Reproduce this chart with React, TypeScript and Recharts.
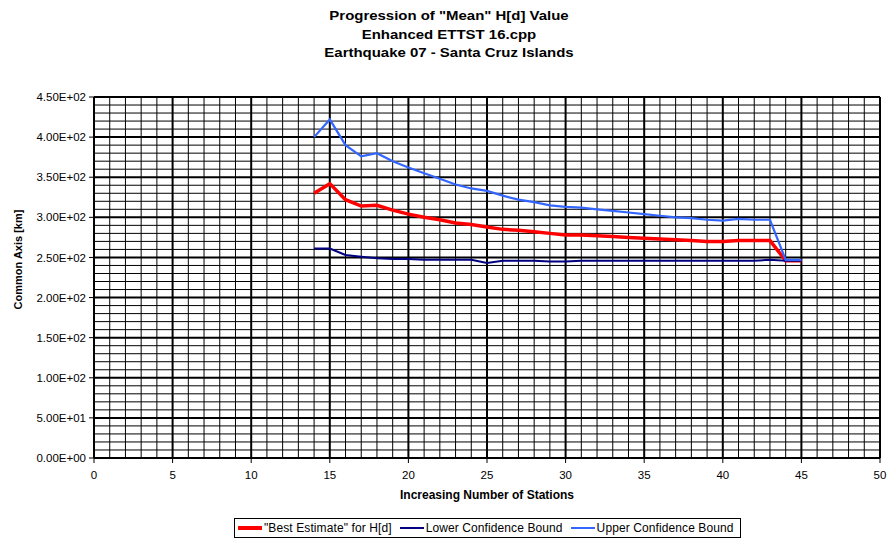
import { LineChart, Line, XAxis, YAxis, ReferenceLine } from 'recharts'

const stations = [14, 15, 16, 17, 18, 19, 20, 21, 22, 23, 24, 25, 26, 27, 28, 29, 30, 31, 32, 33, 34, 35, 36, 37, 38, 39, 40, 41, 42, 43, 44, 45]
const bestEstimate = [330, 342, 322, 314, 315, 309, 304, 300, 297, 293, 291, 288, 285, 284, 282, 280, 278, 278, 277, 276, 275, 274, 273, 272, 271, 270, 270, 271, 271, 271, 246, 246]
const lowerBound = [261, 261, 253, 251, 249, 248, 248, 247, 247, 247, 247, 243, 246, 246, 246, 245, 245, 246, 246, 246, 246, 246, 246, 246, 246, 246, 246, 246, 246, 247, 246, 246]
const upperBound = [400, 422, 390, 376, 380, 370, 362, 355, 348, 341, 336, 333, 327, 322, 319, 315, 313, 312, 310, 308, 306, 304, 302, 300, 299, 297, 296, 298, 297, 297, 247, 247]

const xTicks = [0, 5, 10, 15, 20, 25, 30, 35, 40, 45, 50]
const yTicks = [0, 50, 100, 150, 200, 250, 300, 350, 400, 450]
// minor grid every station / every 10 km
const xMinor = Array.from({ length: 51 }, (_, i) => i)
const yMinor = Array.from({ length: 46 }, (_, i) => i * 10)

const titleLines = ['Progression of "Mean" H[d] Value', 'Enhanced ETTST 16.cpp', 'Earthquake 07 - Santa Cruz Islands']

const series = [
  { key: 'best', label: '"Best Estimate" for H[d]', color: '#FF0000', width: 3.5 },
  { key: 'lower', label: 'Lower Confidence Bound', color: '#000080', width: 2 },
  { key: 'upper', label: 'Upper Confidence Bound', color: '#3366FF', width: 2.2 },
]

const data = stations.map((n, i) => ({
  n,
  best: bestEstimate[i],
  lower: lowerBound[i],
  upper: upperBound[i],
}))

// Excel-style scientific notation, e.g. 4.50E+02
function sci(v: number) {
  const [m, e] = v.toExponential(2).split('e')
  const exp = parseInt(e, 10)
  const sign = exp < 0 ? '-' : '+'
  return `${m}E${sign}${String(Math.abs(exp)).padStart(2, '0')}`
}

const font = 'Arial, "Liberation Sans", sans-serif'
const tick = { fill: '#000', fontSize: 11.5, fontFamily: font }

const YLabel = (props: any) => {
  const vb = props.viewBox
  const cy = vb.y + vb.height / 2 - 18
  return (
    <text
      x={18}
      y={cy}
      transform={`rotate(-90 18 ${cy})`}
      textAnchor="middle"
      dominantBaseline="central"
      fontSize={11}
      fontWeight="bold"
      fontFamily={font}
      fill="#000"
    >
      Common Axis [km]
    </text>
  )
}

export default function App() {
  return (
    <div style={{ position: 'absolute', left: 0, top: 0, width: 887, height: 538, background: '#fff', fontFamily: font }}>
      <div
        style={{
          position: 'absolute',
          left: 0,
          top: 7,
          width: 898,
          textAlign: 'center',
          fontWeight: 'bold',
          fontSize: 13,
          lineHeight: '18.5px',
          transform: 'scaleX(1.15)',
          transformOrigin: '449px 0',
        }}
      >
        {titleLines.map((t) => (
          <div key={t}>{t}</div>
        ))}
      </div>
      <LineChart width={887} height={538} data={data} margin={{ top: 97, right: 7, bottom: 0, left: 0 }}>
        <XAxis
          dataKey="n"
          type="number"
          domain={[0, 50]}
          ticks={xTicks}
          tick={tick}
          tickSize={5}
          tickMargin={8}
          height={80}
          stroke="#000"
          label={{ value: 'Increasing Number of Stations', position: 'insideTop', offset: 32, fontSize: 12, fontWeight: 'bold', fill: '#000', fontFamily: font }}
        />
        <YAxis
          type="number"
          domain={[0, 450]}
          ticks={yTicks}
          tick={tick}
          tickSize={5}
          tickMargin={3}
          tickFormatter={sci}
          width={94}
          stroke="#000"
          label={<YLabel />}
        />
        {yMinor.map((v) => (
          <ReferenceLine key={`hy${v}`} y={v} stroke="#000" strokeWidth={v % 50 === 0 ? 2 : 1} />
        ))}
        {xMinor.map((v) => (
          <ReferenceLine key={`vx${v}`} x={v} stroke="#000" strokeWidth={v % 5 === 0 ? 2 : 1} />
        ))}
        {series.map((s) => (
          <Line
            key={s.key}
            dataKey={s.key}
            type="linear"
            stroke={s.color}
            strokeWidth={s.width}
            dot={false}
            isAnimationActive={false}
          />
        ))}
      </LineChart>
      <div
        style={{
          position: 'absolute',
          left: 234,
          top: 518,
          width: 507,
          height: 20,
          border: '1px solid #000',
          display: 'flex',
          alignItems: 'center',
          paddingLeft: 3,
          fontSize: 12,
          letterSpacing: 0.1,
          gap: 8,
          boxSizing: 'border-box',
          whiteSpace: 'nowrap',
        }}
      >
        {series.map((s) => (
          <div key={s.key} style={{ display: 'flex', alignItems: 'center' }}>
            <span style={{ display: 'inline-block', width: 24, height: s.width, background: s.color, marginRight: 2 }} />
            <span>{s.label}</span>
          </div>
        ))}
      </div>
    </div>
  )
}
